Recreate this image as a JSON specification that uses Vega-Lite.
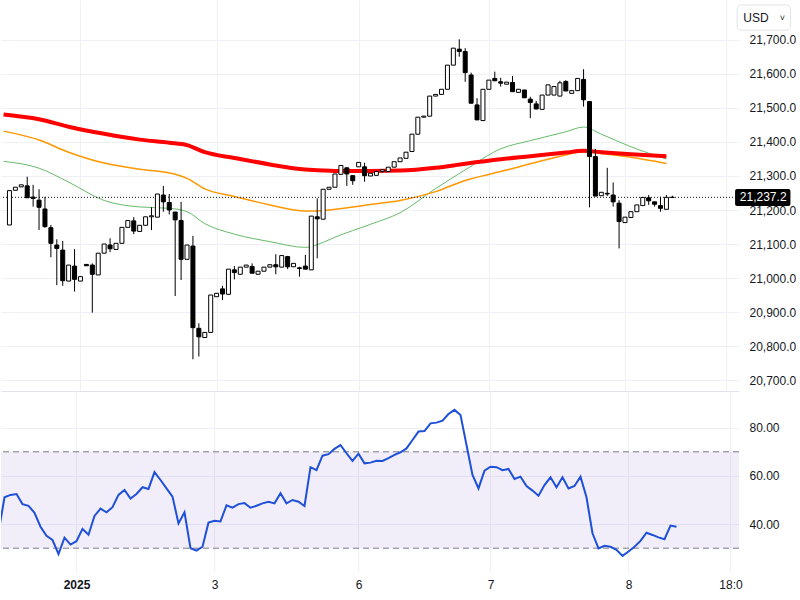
{
  "$schema": "https://vega.github.io/schema/vega-lite/v6.json",
  "padding": 0,
  "spacing": 0,
  "background": "#ffffff",
  "config": {
    "view": {"stroke": null},
    "font": "Liberation Sans",
    "axis": {
      "labelFont": "Liberation Sans",
      "labelFontSize": 12,
      "labelColor": "#131722",
      "gridColor": "#eef0f5",
      "gridWidth": 1,
      "ticks": false,
      "domain": false,
      "title": null,
      "labelOverlap": false
    }
  },
  "datasets": {
    "candles": [
      {"i":0,"o":21156,"h":21257,"l":21156,"c":21257},
      {"i":1,"o":21258,"h":21267,"l":21258,"c":21267},
      {"i":2,"o":21268,"h":21274,"l":21268,"c":21274},
      {"i":3,"o":21271,"h":21298,"l":21236,"c":21236},
      {"i":4,"o":21238,"h":21274,"l":21210,"c":21234},
      {"i":5,"o":21229,"h":21261,"l":21141,"c":21208},
      {"i":6,"o":21203,"h":21239,"l":21148,"c":21151},
      {"i":7,"o":21148,"h":21156,"l":21061,"c":21102},
      {"i":8,"o":21097,"h":21114,"l":20979,"c":21087},
      {"i":9,"o":21082,"h":21109,"l":20977,"c":20992},
      {"i":10,"o":20991,"h":21038,"l":20991,"c":21038},
      {"i":11,"o":21035,"h":21085,"l":20960,"c":20996},
      {"i":12,"o":20991,"h":21004,"l":20991,"c":21004},
      {"i":13,"o":21040,"h":21040,"l":21036,"c":21036},
      {"i":14,"o":21038,"h":21043,"l":20898,"c":21011},
      {"i":15,"o":21009,"h":21073,"l":21009,"c":21073},
      {"i":16,"o":21073,"h":21100,"l":21073,"c":21100},
      {"i":17,"o":21097,"h":21117,"l":21076,"c":21086},
      {"i":18,"o":21084,"h":21102,"l":21084,"c":21102},
      {"i":19,"o":21102,"h":21149,"l":21102,"c":21149},
      {"i":20,"o":21149,"h":21169,"l":21149,"c":21169},
      {"i":21,"o":21168,"h":21179,"l":21129,"c":21138},
      {"i":22,"o":21137,"h":21155,"l":21137,"c":21155},
      {"i":23,"o":21155,"h":21180,"l":21155,"c":21180},
      {"i":24,"o":21180,"h":21208,"l":21141,"c":21183},
      {"i":25,"o":21179,"h":21247,"l":21179,"c":21247},
      {"i":26,"o":21244,"h":21271,"l":21195,"c":21224},
      {"i":27,"o":21222,"h":21247,"l":21187,"c":21200},
      {"i":28,"o":21194,"h":21194,"l":20947,"c":21171},
      {"i":29,"o":21169,"h":21224,"l":20994,"c":21055},
      {"i":30,"o":21055,"h":21097,"l":21055,"c":21097},
      {"i":31,"o":21094,"h":21124,"l":20761,"c":20854},
      {"i":32,"o":20852,"h":20867,"l":20769,"c":20827},
      {"i":33,"o":20825,"h":20840,"l":20825,"c":20840},
      {"i":34,"o":20840,"h":20950,"l":20840,"c":20950},
      {"i":35,"o":20945,"h":20955,"l":20945,"c":20955},
      {"i":36,"o":20968,"h":20977,"l":20935,"c":20953},
      {"i":37,"o":20952,"h":21026,"l":20952,"c":21026},
      {"i":38,"o":21024,"h":21035,"l":20996,"c":21016},
      {"i":39,"o":21011,"h":21032,"l":21011,"c":21032},
      {"i":40,"o":21032,"h":21038,"l":21032,"c":21038},
      {"i":41,"o":21034,"h":21043,"l":21014,"c":21014},
      {"i":42,"o":21011,"h":21020,"l":21011,"c":21020},
      {"i":43,"o":21020,"h":21032,"l":21020,"c":21032},
      {"i":44,"o":21032,"h":21039,"l":21032,"c":21039},
      {"i":45,"o":21039,"h":21070,"l":21011,"c":21033},
      {"i":46,"o":21032,"h":21066,"l":21032,"c":21066},
      {"i":47,"o":21063,"h":21065,"l":21026,"c":21033},
      {"i":48,"o":21033,"h":21043,"l":21033,"c":21043},
      {"i":49,"o":21030,"h":21033,"l":21004,"c":21028},
      {"i":50,"o":21035,"h":21068,"l":21026,"c":21026},
      {"i":51,"o":21024,"h":21182,"l":21024,"c":21182},
      {"i":52,"o":21180,"h":21234,"l":21058,"c":21174},
      {"i":53,"o":21173,"h":21261,"l":21173,"c":21261},
      {"i":54,"o":21261,"h":21267,"l":21261,"c":21267},
      {"i":55,"o":21267,"h":21306,"l":21267,"c":21306},
      {"i":56,"o":21305,"h":21331,"l":21305,"c":21331},
      {"i":57,"o":21324,"h":21326,"l":21271,"c":21306},
      {"i":58,"o":21301,"h":21301,"l":21274,"c":21286},
      {"i":59,"o":21327,"h":21340,"l":21327,"c":21340},
      {"i":60,"o":21327,"h":21339,"l":21283,"c":21301},
      {"i":61,"o":21300,"h":21308,"l":21300,"c":21308},
      {"i":62,"o":21302,"h":21313,"l":21302,"c":21313},
      {"i":63,"o":21313,"h":21320,"l":21311,"c":21318},
      {"i":64,"o":21313,"h":21326,"l":21313,"c":21326},
      {"i":65,"o":21326,"h":21342,"l":21326,"c":21342},
      {"i":66,"o":21342,"h":21353,"l":21342,"c":21353},
      {"i":67,"o":21352,"h":21370,"l":21352,"c":21370},
      {"i":68,"o":21372,"h":21423,"l":21372,"c":21423},
      {"i":69,"o":21423,"h":21473,"l":21423,"c":21473},
      {"i":70,"o":21473,"h":21476,"l":21473,"c":21476},
      {"i":71,"o":21476,"h":21535,"l":21476,"c":21535},
      {"i":72,"o":21535,"h":21540,"l":21535,"c":21540},
      {"i":73,"o":21540,"h":21555,"l":21540,"c":21555},
      {"i":74,"o":21555,"h":21626,"l":21555,"c":21626},
      {"i":75,"o":21626,"h":21676,"l":21626,"c":21676},
      {"i":76,"o":21673,"h":21702,"l":21651,"c":21666},
      {"i":77,"o":21666,"h":21676,"l":21577,"c":21604},
      {"i":78,"o":21597,"h":21604,"l":21514,"c":21514},
      {"i":79,"o":21509,"h":21529,"l":21465,"c":21465},
      {"i":80,"o":21463,"h":21555,"l":21463,"c":21555},
      {"i":81,"o":21555,"h":21582,"l":21555,"c":21582},
      {"i":82,"o":21587,"h":21607,"l":21580,"c":21580},
      {"i":83,"o":21577,"h":21589,"l":21563,"c":21573},
      {"i":84,"o":21570,"h":21576,"l":21570,"c":21576},
      {"i":85,"o":21575,"h":21594,"l":21548,"c":21548},
      {"i":86,"o":21546,"h":21555,"l":21546,"c":21555},
      {"i":87,"o":21553,"h":21553,"l":21530,"c":21530},
      {"i":88,"o":21526,"h":21533,"l":21470,"c":21516},
      {"i":89,"o":21512,"h":21521,"l":21497,"c":21497},
      {"i":90,"o":21496,"h":21538,"l":21496,"c":21538},
      {"i":91,"o":21538,"h":21568,"l":21538,"c":21568},
      {"i":92,"o":21538,"h":21563,"l":21538,"c":21563},
      {"i":93,"o":21535,"h":21580,"l":21535,"c":21574},
      {"i":94,"o":21578,"h":21582,"l":21550,"c":21550},
      {"i":95,"o":21543,"h":21553,"l":21543,"c":21551},
      {"i":96,"o":21551,"h":21587,"l":21551,"c":21587},
      {"i":97,"o":21584,"h":21614,"l":21504,"c":21524},
      {"i":98,"o":21519,"h":21519,"l":21208,"c":21357},
      {"i":99,"o":21357,"h":21379,"l":21241,"c":21241},
      {"i":100,"o":21242,"h":21252,"l":21242,"c":21252},
      {"i":101,"o":21249,"h":21324,"l":21241,"c":21247},
      {"i":102,"o":21244,"h":21281,"l":21210,"c":21224},
      {"i":103,"o":21220,"h":21229,"l":21087,"c":21166},
      {"i":104,"o":21163,"h":21179,"l":21163,"c":21179},
      {"i":105,"o":21178,"h":21195,"l":21178,"c":21195},
      {"i":106,"o":21195,"h":21215,"l":21195,"c":21215},
      {"i":107,"o":21213,"h":21237,"l":21213,"c":21237},
      {"i":108,"o":21236,"h":21244,"l":21215,"c":21227},
      {"i":109,"o":21224,"h":21224,"l":21210,"c":21217},
      {"i":110,"o":21213,"h":21239,"l":21195,"c":21205},
      {"i":111,"o":21202,"h":21244,"l":21202,"c":21237.2},
      {"i":112,"o":21237.2,"h":21242,"l":21237.2,"c":21237.2}
    ],
    "ma": [
      {"i":-1,"ma50":21343,"ma100":21432,"ma200":21481},
      {"i":5,"ma50":21323,"ma100":21406,"ma200":21467},
      {"i":10,"ma50":21282,"ma100":21370,"ma200":21445},
      {"i":16,"ma50":21228,"ma100":21338,"ma200":21424},
      {"i":22,"ma50":21209,"ma100":21320,"ma200":21407},
      {"i":27,"ma50":21205,"ma100":21309,"ma200":21398},
      {"i":30,"ma50":21195,"ma100":21293,"ma200":21391},
      {"i":33,"ma50":21160,"ma100":21262,"ma200":21370},
      {"i":38,"ma50":21129,"ma100":21240,"ma200":21353},
      {"i":44,"ma50":21107,"ma100":21215,"ma200":21334},
      {"i":50,"ma50":21090,"ma100":21197,"ma200":21319},
      {"i":53,"ma50":21105,"ma100":21198,"ma200":21316},
      {"i":55,"ma50":21120,"ma100":21202,"ma200":21315},
      {"i":61,"ma50":21158,"ma100":21216,"ma200":21315},
      {"i":66,"ma50":21192,"ma100":21228,"ma200":21316},
      {"i":72,"ma50":21263,"ma100":21254,"ma200":21324},
      {"i":77,"ma50":21318,"ma100":21287,"ma200":21336},
      {"i":83,"ma50":21380,"ma100":21313,"ma200":21349},
      {"i":88,"ma50":21404,"ma100":21336,"ma200":21358},
      {"i":94,"ma50":21430,"ma100":21362,"ma200":21369},
      {"i":97,"ma50":21444,"ma100":21371,"ma200":21374},
      {"i":100,"ma50":21423,"ma100":21366,"ma200":21370},
      {"i":105,"ma50":21386,"ma100":21355,"ma200":21364},
      {"i":111,"ma50":21350,"ma100":21337,"ma200":21358}
    ],
    "rsi": [
      {"i":-1,"rsi":36.5},{"i":0,"rsi":51.1},{"i":1,"rsi":52.1},{"i":2,"rsi":52.5},{"i":3,"rsi":48.3},
      {"i":4,"rsi":47.6},{"i":5,"rsi":44.7},{"i":6,"rsi":38.9},{"i":7,"rsi":35.1},{"i":8,"rsi":33.4},
      {"i":9,"rsi":27.6},{"i":10,"rsi":34.4},{"i":11,"rsi":31.5},{"i":12,"rsi":32.9},{"i":13,"rsi":38.0},
      {"i":14,"rsi":35.6},{"i":15,"rsi":43.4},{"i":16,"rsi":46.4},{"i":17,"rsi":44.9},{"i":18,"rsi":47.0},
      {"i":19,"rsi":52.1},{"i":20,"rsi":54.2},{"i":21,"rsi":50.6},{"i":22,"rsi":52.5},{"i":23,"rsi":55.3},
      {"i":24,"rsi":54.6},{"i":25,"rsi":61.6},{"i":26,"rsi":58.3},{"i":27,"rsi":54.8},{"i":28,"rsi":51.4},
      {"i":29,"rsi":40.3},{"i":30,"rsi":44.9},{"i":31,"rsi":30.0},{"i":32,"rsi":29.0},{"i":33,"rsi":30.6},
      {"i":34,"rsi":40.6},{"i":35,"rsi":41.4},{"i":36,"rsi":41.1},{"i":37,"rsi":47.8},{"i":38,"rsi":46.8},
      {"i":39,"rsi":48.3},{"i":40,"rsi":48.7},{"i":41,"rsi":46.8},{"i":42,"rsi":47.6},{"i":43,"rsi":48.6},
      {"i":44,"rsi":49.3},{"i":45,"rsi":48.6},{"i":46,"rsi":52.8},{"i":47,"rsi":48.6},{"i":48,"rsi":50.0},
      {"i":49,"rsi":49.3},{"i":50,"rsi":47.5},{"i":51,"rsi":63.6},{"i":52,"rsi":62.4},{"i":53,"rsi":68.4},
      {"i":54,"rsi":69.0},{"i":55,"rsi":71.2},{"i":56,"rsi":72.8},{"i":57,"rsi":69.4},{"i":58,"rsi":66.2},
      {"i":59,"rsi":69.2},{"i":60,"rsi":65.2},{"i":61,"rsi":65.5},{"i":62,"rsi":66.3},{"i":63,"rsi":66.2},
      {"i":64,"rsi":67.4},{"i":65,"rsi":68.7},{"i":66,"rsi":69.8},{"i":67,"rsi":71.4},{"i":68,"rsi":74.9},
      {"i":69,"rsi":78.4},{"i":70,"rsi":78.6},{"i":71,"rsi":81.8},{"i":72,"rsi":82.1},{"i":73,"rsi":82.9},
      {"i":74,"rsi":85.7},{"i":75,"rsi":87.4},{"i":76,"rsi":85.3},{"i":77,"rsi":72.8},{"i":78,"rsi":60.4},
      {"i":79,"rsi":54.8},{"i":80,"rsi":62.2},{"i":81,"rsi":63.8},{"i":82,"rsi":63.6},{"i":83,"rsi":62.4},
      {"i":84,"rsi":62.9},{"i":85,"rsi":58.7},{"i":86,"rsi":59.7},{"i":87,"rsi":55.8},{"i":88,"rsi":53.9},
      {"i":89,"rsi":51.8},{"i":90,"rsi":56.2},{"i":91,"rsi":59.4},{"i":92,"rsi":55.3},{"i":93,"rsi":59.4},
      {"i":94,"rsi":54.8},{"i":95,"rsi":55.8},{"i":96,"rsi":59.7},{"i":97,"rsi":51.1},{"i":98,"rsi":36.2},
      {"i":99,"rsi":29.9},{"i":100,"rsi":31.0},{"i":101,"rsi":30.6},{"i":102,"rsi":29.3},{"i":103,"rsi":26.8},
      {"i":104,"rsi":28.6},{"i":105,"rsi":30.6},{"i":106,"rsi":33.0},{"i":107,"rsi":36.4},{"i":108,"rsi":35.5},
      {"i":109,"rsi":34.5},{"i":110,"rsi":33.7},{"i":111,"rsi":39.4},{"i":112,"rsi":38.9}
    ],
    "last": [{"last": 21237.2, "currency": "USD"}],
    "bands": [{"lo": 30, "hi": 70}],
    "levels": [{"lvl": 30}, {"lvl": 70}]
  },
  "vconcat": [
    {
      "width": 738,
      "height": 391,
      "layer": [
        {
          "data": {"name": "ma"},
          "mark": {"type": "line", "color": "#66bb6a", "strokeWidth": 1, "interpolate": "monotone", "clip": true},
          "encoding": {
            "x": {
              "field": "i", "type": "quantitative",
              "scale": {"domain": [-0.5833, 122.4167], "nice": false, "zero": false},
              "axis": {"values": [12, 35, 59, 81, 104, 121], "tickCount": 20, "labels": false, "grid": true, "domain": true, "domainColor": "#e0e3eb", "title": null}
            },
            "y": {
              "field": "ma50", "type": "quantitative",
              "scale": {"domain": [20667.7, 21817.6], "nice": false, "zero": false},
              "axis": {
                "orient": "right",
                "values": [20700, 20800, 20900, 21000, 21100, 21200, 21300, 21400, 21500, 21600, 21700],
                "tickCount": 20,
                "format": ",.1f", "labelPadding": 10, "grid": true, "title": null, "labelOverlap": false
              }
            }
          }
        },
        {
          "data": {"name": "ma"},
          "mark": {"type": "line", "color": "#ff9800", "strokeWidth": 1.5, "interpolate": "monotone", "clip": true},
          "encoding": {
            "x": {"field": "i", "type": "quantitative"},
            "y": {"field": "ma100", "type": "quantitative"}
          }
        },
        {
          "data": {"name": "ma"},
          "mark": {"type": "line", "color": "#ff0000", "strokeWidth": 4, "interpolate": "monotone", "clip": true},
          "encoding": {
            "x": {"field": "i", "type": "quantitative"},
            "y": {"field": "ma200", "type": "quantitative"}
          }
        },
        {
          "data": {"name": "last"},
          "mark": {"type": "rule", "color": "#131722", "strokeWidth": 1, "strokeDash": [1, 2]},
          "encoding": {"y": {"field": "last", "type": "quantitative"}}
        },
        {
          "data": {"name": "candles"},
          "mark": {"type": "rule", "color": "#000000", "strokeWidth": 1},
          "encoding": {
            "x": {"field": "i", "type": "quantitative"},
            "y": {"field": "l", "type": "quantitative"},
            "y2": {"field": "h"}
          }
        },
        {
          "data": {"name": "candles"},
          "mark": {"type": "bar", "size": 4, "stroke": "#000000", "strokeWidth": 1, "orient": "vertical"},
          "encoding": {
            "x": {"field": "i", "type": "quantitative"},
            "y": {"field": "o", "type": "quantitative"},
            "y2": {"field": "c"},
            "fill": {"condition": {"test": "datum.c >= datum.o", "value": "#ffffff"}, "value": "#000000"}
          }
        },
        {
          "data": {"name": "last"},
          "mark": {"type": "rect", "color": "#000000", "cornerRadius": 2, "clip": false},
          "encoding": {
            "x": {"datum": 122.6, "type": "quantitative"},
            "x2": {"datum": 131.95},
            "y": {"datum": 21262, "type": "quantitative"},
            "y2": {"datum": 21212}
          }
        },
        {
          "data": {"name": "last"},
          "mark": {"type": "text", "color": "#ffffff", "fontSize": 12, "align": "center", "baseline": "middle", "font": "Liberation Sans", "clip": false},
          "encoding": {
            "x": {"datum": 127.35, "type": "quantitative"},
            "y": {"field": "last", "type": "quantitative"},
            "text": {"field": "last", "type": "quantitative", "format": ",.1f"}
          }
        },
        {
          "data": {"name": "last"},
          "mark": {"type": "rect", "fill": "#ffffff", "stroke": "#e0e3eb", "strokeWidth": 1, "cornerRadius": 4, "clip": false},
          "encoding": {
            "x": {"datum": 122.95, "type": "quantitative"},
            "x2": {"datum": 131.95},
            "y": {"datum": 21803, "type": "quantitative"},
            "y2": {"datum": 21729}
          }
        },
        {
          "data": {"name": "last"},
          "mark": {"type": "text", "color": "#131722", "fontSize": 12, "align": "left", "baseline": "middle", "font": "Liberation Sans", "clip": false},
          "encoding": {
            "x": {"datum": 124.0, "type": "quantitative"},
            "y": {"datum": 21766, "type": "quantitative"},
            "text": {"field": "currency"}
          }
        },
        {
          "data": {"name": "last"},
          "mark": {"type": "text", "color": "#131722", "fontSize": 9, "align": "center", "baseline": "middle", "text": "˅", "clip": false},
          "encoding": {
            "x": {"datum": 130.6, "type": "quantitative"},
            "y": {"datum": 21766, "type": "quantitative"}
          }
        }
      ]
    },
    {
      "width": 738,
      "height": 181,
      "layer": [
        {
          "data": {"name": "bands"},
          "mark": {"type": "rect", "color": "#7e57c2", "opacity": 0.1},
          "encoding": {
            "y": {
              "field": "lo", "type": "quantitative",
              "scale": {"domain": [20.12, 95.23], "nice": false, "zero": false},
              "axis": {"orient": "right", "values": [40, 60, 80], "tickCount": 10, "format": ".2f", "labelPadding": 10, "grid": true, "title": null, "labelOverlap": false}
            },
            "y2": {"field": "hi"}
          }
        },
        {
          "data": {"name": "levels"},
          "mark": {"type": "rule", "color": "#787b86", "strokeWidth": 1, "strokeDash": [6, 4]},
          "encoding": {"y": {"field": "lvl", "type": "quantitative"}}
        },
        {
          "data": {"name": "rsi"},
          "mark": {"type": "line", "color": "#1e50d8", "strokeWidth": 2, "clip": true},
          "encoding": {
            "x": {
              "field": "i", "type": "quantitative",
              "scale": {"domain": [-0.5833, 122.4167], "nice": false, "zero": false},
              "axis": {
                "values": [12, 35, 59, 81, 104, 121],
                "tickCount": 20,
                "labelExpr": "datum.value == 12 ? '2025' : datum.value == 35 ? '3' : datum.value == 59 ? '6' : datum.value == 81 ? '7' : datum.value == 104 ? '8' : '18:0'",
                "labelFontWeight": {"condition": {"test": "datum.value == 12", "value": "bold"}, "value": "normal"},
                "labelPadding": 7, "grid": true, "domain": false, "title": null
              }
            },
            "y": {"field": "rsi", "type": "quantitative"}
          }
        }
      ]
    }
  ]
}
